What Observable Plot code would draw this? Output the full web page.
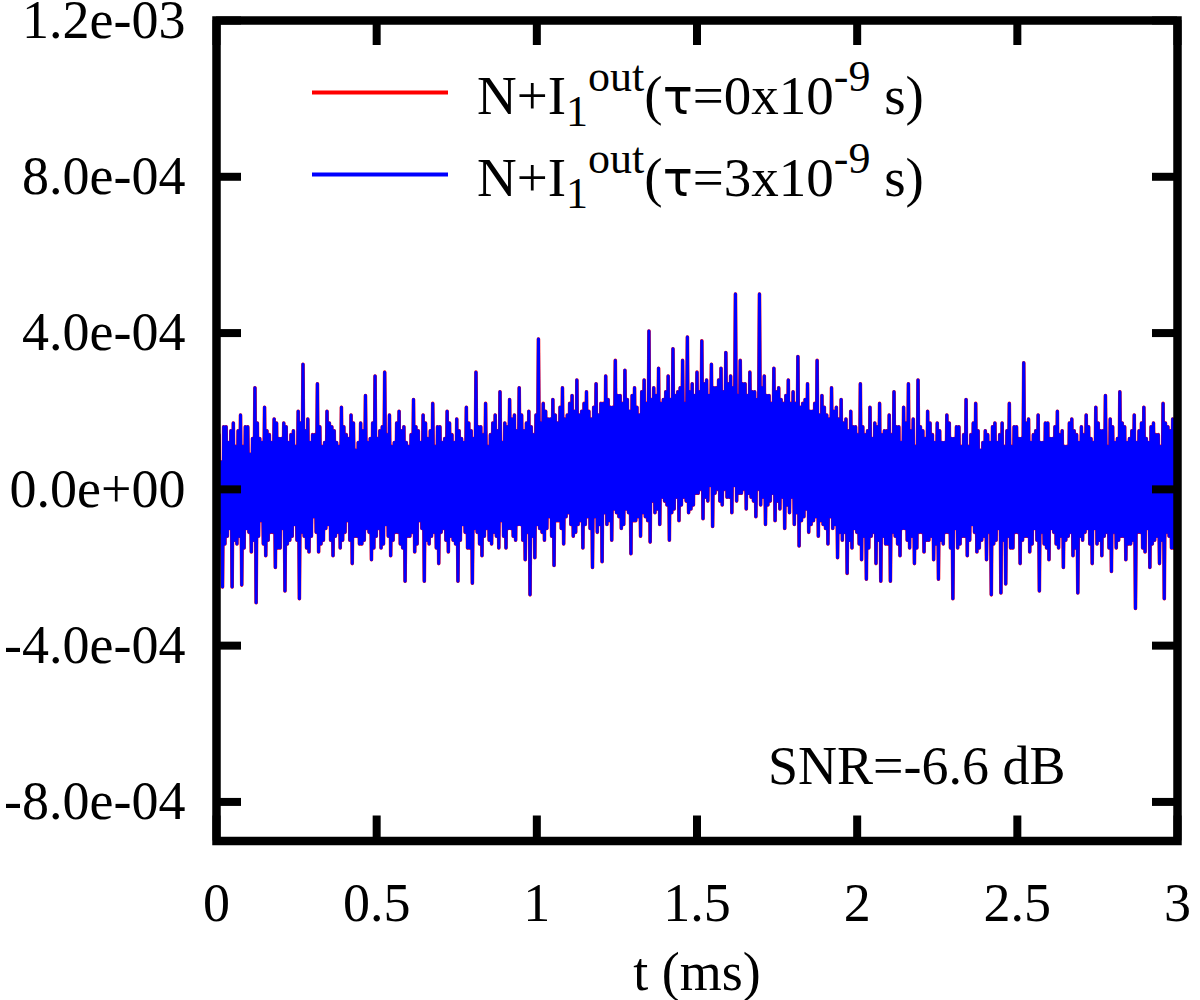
<!DOCTYPE html>
<html><head><meta charset="utf-8">
<script src="https://cdn.jsdelivr.net/npm/d3@7"></script>
<script src="https://cdn.jsdelivr.net/npm/@observablehq/plot@0.6"></script>
<style>body{margin:0;background:#fff}#chart{width:1200px;height:1000px}</style>
</head><body><div id="chart"></div>
<script>
// sampling step (ms)
const dt = 0.00375;
// signal values, in units of 1e-4 (one row = 0.15 ms)
const signal_e4 = [
1.2,-0.9,1.4,-1.1, 0.7,-2.5,1.6,-1.4, 1.6,-1.2,1.2,-1.0, 1.5,-2.5,1.7,-1.3, 1.1,-1.4,1.5,-1.2, 1.9,-2.45,1.1,-1.5, 1.6,-1.0,1.6,-1.1, 0.9,-1.6,1.3,-1.3, 2.6,-2.9,1.7,-1.2, 1.3,-0.8,1.2,-1.4,
2.1,-1.7,1.5,-1.3, 1.4,-1.1,1.2,-1.1, 1.8,-2.0,1.7,-1.5, 1.3,-1.5,1.3,-1.0, 1.7,-2.6,1.6,-1.4, 1.2,-1.3,1.4,-1.2, 1.5,-0.9,1.1,-1.3, 2.0,-2.8,1.7,-1.1, 3.2,-1.2,1.5,-1.5, 1.8,-1.6,1.2,-1.2,
1.4,-0.7,1.4,-1.1, 2.7,-1.6,1.6,-1.4, 1.1,-1.3,1.2,-1.0, 2.0,-0.9,1.7,-1.3, 1.6,-1.7,1.5,-1.2, 1.2,-1.1,1.1,-1.5, 2.1,-1.3,1.6,-1.1, 1.4,-0.8,1.3,-1.3, 1.9,-1.9,1.7,-1.2, 1.0,-1.2,1.2,-1.4,
1.7,-1.4,1.5,-1.3, 2.4,-1.0,1.2,-1.1, 1.3,-1.8,1.7,-1.5, 2.9,-1.2,1.3,-1.0, 1.5,-1.5,1.6,-1.4, 3.0,-0.9,1.4,-1.2, 1.9,-1.7,1.1,-1.3, 1.2,-1.1,1.7,-1.1, 2.0,-1.4,1.5,-1.5, 1.6,-2.35,1.2,-1.2,
1.1,-1.2,1.4,-1.1, 2.3,-1.6,1.6,-1.4, 1.5,-0.8,1.2,-1.0, 1.9,-2.35,1.7,-1.3, 1.3,-1.4,1.5,-1.2, 2.2,-1.1,1.1,-1.5, 1.6,-1.9,1.6,-1.1, 1.2,-1.0,1.3,-1.3, 2.0,-1.6,1.7,-1.2, 1.4,-1.3,1.2,-1.4,
1.8,-2.35,1.5,-1.3, 1.3,-0.9,1.2,-1.1, 2.1,-1.5,1.7,-1.5, 1.5,-2.4,1.3,-1.0, 3.0,-1.1,1.6,-1.4, 1.6,-1.7,1.4,-1.2, 2.2,-1.0,1.1,-1.3, 1.4,-1.4,1.7,-1.1, 1.9,-1.2,1.5,-1.5, 2.5,-0.8,1.2,-1.2,
1.7,-1.5,1.6,-1.0, 2.3,-1.0,1.8,-1.2, 1.9,-1.3,1.5,-0.9, 2.6,-0.9,1.9,-1.3, 1.5,-1.8,1.7,-1.1, 2.0,-2.7,1.6,-1.2, 1.4,-1.75,1.9,-0.9, 3.85,-1.0,1.7,-1.1, 2.2,-1.3,2.0,-1.0, 1.8,-0.7,1.8,-1.2,
2.3,-1.95,1.9,-0.8, 1.7,-0.8,2.1,-1.0, 2.6,-1.4,1.8,-0.7, 1.9,-0.6,2.2,-0.9, 2.4,-1.2,2.0,-1.1, 2.8,-0.9,1.9,-0.8, 2.0,-1.5,2.2,-0.9, 2.5,-0.7,2.0,-1.0, 1.8,-2.0,2.1,-0.7, 2.7,-1.1,1.9,-0.9,
2.2,-1.85,2.2,-0.6, 2.9,-0.9,2.3,-0.8, 2.1,-1.3,2.1,-0.5, 3.3,-0.6,2.4,-0.7, 2.4,-1.0,2.2,-0.9, 3.05,-0.5,2.3,-0.6, 2.0,-1.65,2.4,-0.8, 2.6,-0.8,2.1,-0.7, 1.9,-1.2,2.5,-0.6, 2.8,-0.7,2.2,-0.8,
4.05,-1.35,2.3,-0.3, 2.6,-0.6,2.4,-0.5, 3.1,-0.9,2.2,-0.2, 2.3,-0.3,2.5,-0.4, 2.9,-1.3,2.3,-0.6, 3.6,-0.5,2.4,-0.2, 2.5,-0.8,2.6,-0.4, 3.3,-0.2,2.2,-0.3, 3.9,-0.6,2.5,-0.5, 2.7,-0.4,2.4,-0.1,
3.0,-0.1,2.5,0.0, 3.8,-0.75,2.7,-0.2, 2.8,-0.3,2.4,0.1, 3.2,-0.95,2.6,-0.1, 2.6,0.0,2.8,-0.3, 3.1,-0.4,2.5,0.0, 3.5,-0.2,2.7,-0.2, 2.9,-0.6,2.6,0.1, 5.0,-0.3,2.4,-0.1, 3.3,-0.1,2.7,0.0,
2.7,-0.5,2.4,-0.1, 3.0,-0.2,2.5,-0.3, 2.5,-0.7,2.3,0.0, 5.0,-0.4,2.6,-0.2, 2.9,-0.9,2.4,-0.4, 2.4,-0.3,2.2,-0.1, 3.1,-0.8,2.5,-0.3, 2.6,-0.5,2.3,-0.2, 2.2,-1.0,2.4,-0.4, 2.8,-0.6,2.2,-0.2,
2.5,-0.9,2.2,-0.6, 3.4,-1.45,2.1,-0.8, 2.2,-0.7,2.3,-0.5, 2.7,-1.1,2.0,-0.9, 2.0,-0.8,2.2,-0.7, 3.3,-1.2,1.9,-0.8, 2.4,-0.9,2.1,-1.0, 1.9,-1.4,1.8,-0.7, 2.6,-1.0,2.0,-0.9, 2.1,-1.75,1.8,-1.1,
2.3,-1.3,1.7,-1.1, 1.8,-2.15,1.5,-1.3, 2.0,-1.5,1.6,-1.0, 1.6,-1.1,1.4,-1.4, 2.7,-1.8,1.6,-1.2, 1.4,-2.3,1.5,-1.5, 2.1,-1.2,1.3,-1.1, 1.7,-1.9,1.6,-1.3, 2.2,-2.35,1.4,-1.2, 1.5,-1.4,1.5,-1.4,
1.9,-2.35,1.4,-1.1, 2.5,-1.2,1.6,-1.4, 1.6,-1.7,1.2,-1.0, 2.1,-1.0,1.7,-1.3, 2.7,-1.5,1.5,-1.2, 1.8,-1.9,1.1,-1.5, 2.8,-1.1,1.6,-1.1, 1.5,-1.6,1.3,-1.3, 2.0,-1.3,1.7,-1.2, 1.4,-1.8,1.2,-1.4,
1.7,-2.3,1.5,-1.3, 1.2,-1.4,1.2,-1.1, 1.9,-1.1,1.7,-1.5, 1.3,-2.8,1.3,-1.0, 1.6,-1.5,1.6,-1.4, 1.1,-1.2,1.4,-1.2, 2.3,-1.7,1.1,-1.3, 1.4,-0.9,1.7,-1.1, 2.2,-1.6,1.5,-1.5, 1.0,-1.3,1.2,-1.2,
1.5,-1.8,1.4,-1.1, 1.2,-2.7,1.6,-1.4, 1.7,-1.3,1.2,-1.0, 1.4,-2.65,1.7,-1.3, 1.1,-2.42,1.5,-1.2, 2.2,-1.5,1.1,-1.5, 1.6,-1.1,1.6,-1.1, 1.3,-1.9,1.3,-1.3, 3.24,-1.2,1.7,-1.2, 1.8,-1.6,1.2,-1.4,
1.4,-1.0,1.5,-1.3, 1.9,-2.6,1.2,-1.1, 1.2,-1.4,1.7,-1.5, 1.7,-1.8,1.3,-1.0, 1.3,-1.1,1.6,-1.4, 2.0,-1.5,1.4,-1.2, 1.5,-2.0,1.1,-1.3, 1.1,-1.2,1.7,-1.1, 1.8,-1.7,1.5,-1.5, 1.4,-2.65,1.2,-1.2,
1.6,-1.3,1.4,-1.1, 1.9,-1.0,1.6,-1.4, 1.3,-1.9,1.2,-1.0, 2.1,-1.4,1.7,-1.3, 1.5,-1.7,1.5,-1.2, 2.4,-1.1,1.1,-1.5, 1.8,-2.1,1.6,-1.1, 1.2,-1.5,1.3,-1.3, 2.5,-1.2,1.7,-1.2, 1.6,-1.8,1.2,-1.4,
1.3,-1.4,1.5,-1.3, 1.9,-3.05,1.2,-1.1, 1.5,-1.1,1.7,-1.5, 2.1,-1.6,1.3,-1.0, 1.2,-2.0,1.6,-1.4, 1.7,-1.3,1.4,-1.2, 1.4,-1.9,1.1,-1.3, 2.2,-2.8,1.7,-1.1, 1.6,-1.2,1.5,-1.5, 1.8,-1.5,1.2,-1.2,
1.0
];
const seriesTau = ["0", "3"];
const seriesColors = ["#ff0000", "#0000ff"];
const xTicks = [0, 0.5, 1, 1.5, 2, 2.5, 3];
const xTickLabels = ["0", "0.5", "1", "1.5", "2", "2.5", "3"];
const yTicks = [-8e-4, -4e-4, 0, 4e-4, 8e-4, 1.2e-3];
const yTickLabels = ["-8.0e-04", "-4.0e-04", "0.0e+00", "4.0e-04", "8.0e-04", "1.2e-03"];
const xLabel = "t (ms)";
const snrLabel = "SNR=-6.6 dB";

const rows = signal_e4.map((v, i) => ({t: i * dt, v: v * 1e-4}));

const W = 1200, H = 1000, mL = 216, mR = 23, mT = 20, mB = 159.5;
const frameW = W - mL - mR, frameH = H - mT - mB;
const tickLen = 25, tickW = 8;

const plot = Plot.plot({
  width: W, height: H,
  marginLeft: mL, marginRight: mR, marginTop: mT, marginBottom: mB,
  style: {fontFamily: "'Liberation Serif', serif", fontSize: "54px", color: "#000", background: "#fff"},
  x: {domain: [0, 3]},
  y: {domain: [-9e-4, 1.2e-3]},
  marks: [
    Plot.lineY(rows, {x: "t", y: "v", stroke: seriesColors[0], strokeWidth: 3.6}),
    Plot.lineY(rows, {x: "t", y: "v", stroke: seriesColors[1], strokeWidth: 3}),
    Plot.tickX(xTicks, {x: d => d, insetTop: frameH - tickLen, strokeWidth: tickW, stroke: "#000"}),
    Plot.tickX(xTicks, {x: d => d, insetBottom: frameH - tickLen, strokeWidth: tickW, stroke: "#000"}),
    Plot.tickY(yTicks, {y: d => d, insetRight: frameW - tickLen, strokeWidth: tickW, stroke: "#000"}),
    Plot.tickY(yTicks, {y: d => d, insetLeft: frameW - tickLen, strokeWidth: tickW, stroke: "#000"}),
    Plot.frame({stroke: "#000", strokeWidth: 8.5}),
    Plot.axisX(xTicks, {tickSize: 0, tickPadding: 42, tickFormat: d => xTickLabels[xTicks.indexOf(d)], fontSize: 54, label: null}),
    Plot.axisY(yTicks, {tickSize: 0, tickPadding: 31, tickFormat: d => yTickLabels[yTicks.indexOf(d)], fontSize: 54, label: null}),
    Plot.text([xLabel], {frameAnchor: "bottom", lineAnchor: "bottom", dy: 148.5, fontSize: 54}),
    Plot.text([snrLabel], {frameAnchor: "bottom-right", textAnchor: "end", lineAnchor: "bottom", dx: -112, dy: -57.5, fontSize: 54})
  ]
});

// legend (inside the frame, top-left)
const svg = d3.select(plot);
const leg = svg.append("g").attr("font-family", "'Liberation Serif', serif").attr("font-size", 55)
  .attr("fill", "#000").attr("text-anchor", "start");
const legY = [92.5, 174.5];
seriesTau.forEach((tau, k) => {
  leg.append("line").attr("x1", 312).attr("x2", 448).attr("y1", legY[k]).attr("y2", legY[k])
    .attr("stroke", seriesColors[k]).attr("stroke-width", 4);
  const t = leg.append("text").attr("x", 477).attr("y", legY[k] + 21);
  t.append("tspan").text("N+I");
  t.append("tspan").attr("font-size", 44).attr("dy", 12).text("1");
  t.append("tspan").attr("font-size", 44).attr("dy", -35).text("out");
  t.append("tspan").attr("dy", 23).text("(");
  t.append("tspan").attr("font-family", "'DejaVu Sans', sans-serif").attr("font-size", 50).text("τ");
  t.append("tspan").text("=" + tau + "x10");
  t.append("tspan").attr("font-size", 44).attr("dy", -23).text("-9");
  t.append("tspan").attr("dy", 23).text(" s)");
});

document.getElementById("chart").appendChild(plot);
</script>
</body></html>
